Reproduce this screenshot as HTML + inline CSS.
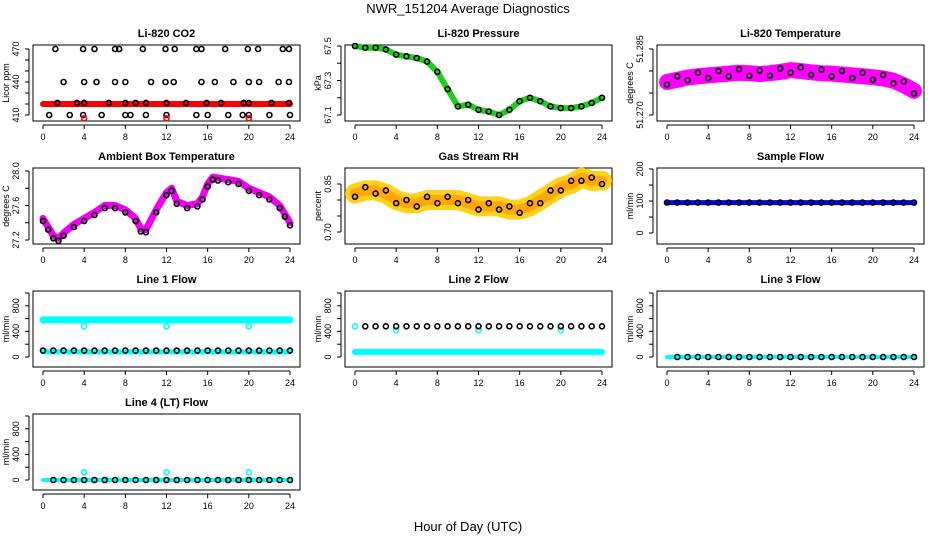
<!DOCTYPE html>
<html><head><meta charset="utf-8"><style>
body{margin:0;background:#fff}
svg{display:block;font-family:"Liberation Sans",sans-serif}
</style></head><body>
<svg id="c" width="936" height="540">
<text x="468" y="13" text-anchor="middle" font-size="13">NWR_151204  Average Diagnostics</text>
<text x="468" y="531" text-anchor="middle" font-size="13">Hour of Day (UTC)</text>
</svg>
<script>
const hours=[0,1,2,3,4,5,6,7,8,9,10,11,12,13,14,15,16,17,18,19,20,21,22,23,24];
const co2Hi=[1.2,3.9,5,7,7.4,9.7,11.9,12.8,14.9,15.4,17.7,19.9,20.9,23.3,23.9];
const co2Mid=[2,4,5.2,7,8,10.5,11.9,12.7,15.4,16.7,18.5,20,21,22.9,23.9];
const co2Base=[1.4,3.3,4,6.4,8,9,10,12,13.9,15.9,17.3,19.5,20,22.2,23.9];
const co2Low=[0.6,2.6,3.9,5.7,8,8.5,10,12,14.9,16,18,19.4,20,22,24];
const co2RedOut=[4,12,20];
const pressure=[67.5,67.49,67.49,67.48,67.45,67.44,67.43,67.41,67.35,67.25,67.15,67.16,67.13,67.12,67.1,67.13,67.18,67.2,67.18,67.15,67.14,67.14,67.15,67.17,67.2];
const liTemp=[51.2775,51.2780,51.2785,51.2788,51.2790,51.2792,51.2794,51.2796,51.2795,51.2793,51.2795,51.2798,51.2802,51.2800,51.2797,51.2795,51.2794,51.2792,51.2790,51.2788,51.2786,51.2783,51.2778,51.2768,51.2755];
const ambHours=[0,0.5,1,1.5,2,3,4,5,6,7,8,9,9.5,10,11,12,12.5,13,14,15,15.5,16,16.5,17,18,19,20,21,22,23,23.5,24];
const ambTemp=[27.45,27.35,27.25,27.22,27.28,27.38,27.45,27.52,27.6,27.6,27.55,27.45,27.33,27.32,27.55,27.75,27.8,27.65,27.6,27.62,27.7,27.85,27.93,27.92,27.9,27.88,27.8,27.75,27.7,27.6,27.5,27.4];
const rh=[0.82,0.83,0.83,0.82,0.80,0.79,0.79,0.80,0.80,0.80,0.80,0.79,0.78,0.78,0.78,0.77,0.77,0.78,0.80,0.82,0.84,0.85,0.87,0.86,0.86];
const sampleFlow=95;
const line1Cyan=580, line1Black=100, line1Out=480;
const line2Cyan=80, line2Black=480, line2Out=420;
const line3Cyan=0, line3Black=0;
const line4Black=0, line4Out=120;
const outHours=[4,12,20];
const xTicks=[0,4,8,12,16,20,24];

const NS="http://www.w3.org/2000/svg";
const svg=document.getElementById('c');
function mk(tag,attrs,parent){const e=document.createElementNS(NS,tag);for(const k in attrs)e.setAttribute(k,attrs[k]);(parent||svg).appendChild(e);return e;}
function panel(col,row,title,ylab,ymin,ymax,pa,pb,yticks,ylabels){
  const yTop=Math.min(pa,pb), yBot=Math.max(pa,pb);
  const bx=33+312*col, by=45+123*row, bw=267, bh=76;
  const g=mk('g',{});
  
  
  const x=h=>bx+10+h*(247/24);
  const y=v=>yBot+(v-ymin)*(yTop-yBot)/(ymax-ymin);
  const fr=mk('rect',{x:bx,y:by,width:bw,height:bh,fill:'none',stroke:'#000','stroke-width':1},g);
  
  const t=mk('text',{x:bx+bw/2,y:by-8,'text-anchor':'middle','font-size':11,'font-weight':'bold'},g);t.textContent=title;
  
  const xa=mk('g',{},g);
  mk('line',{x1:x(0),x2:x(24),y1:by+bh+4,y2:by+bh+4,stroke:'#000'},xa);
  xTicks.forEach(h=>{mk('line',{x1:x(h),x2:x(h),y1:by+bh+4,y2:by+bh+8,stroke:'#000'},xa);
    const tl=mk('text',{x:x(h),y:by+bh+19,'text-anchor':'middle','font-size':9},xa);tl.textContent=h;});
  const ya=mk('g',{},g);
  const ax=bx-4;
  mk('line',{x1:ax,x2:ax,y1:y(yticks[0]),y2:y(yticks[yticks.length-1]),stroke:'#000'},ya);
  yticks.forEach((v,i)=>{mk('line',{x1:ax-4,x2:ax,y1:y(v),y2:y(v),stroke:'#000'},ya);
    if(ylabels[i]!==''){const tl=mk('text',{x:ax-10,y:y(v),'text-anchor':'middle','font-size':9,transform:`rotate(-90 ${ax-10} ${y(v)})`},ya);tl.textContent=ylabels[i];}});
  const yl=mk('text',{x:bx-24,y:by+bh/2,'text-anchor':'middle','font-size':9,transform:`rotate(-90 ${bx-24} ${by+bh/2})`},g);yl.textContent=ylab;
  
  return {g,x,y};
}
function circ(p,h,v,color,name){const c=mk('circle',{cx:p.x(h),cy:p.y(v),r:2.5,fill:'none',stroke:color,'stroke-width':1.6},p.g);
  
  return c;}
function band(p,hs,vs,color,w,name){const l=mk('polyline',{points:hs.map((h,i)=>p.x(h)+','+p.y(vs[i])).join(' '),fill:'none',stroke:color,'stroke-width':w,'stroke-linejoin':'round','stroke-linecap':'round'},p.g);
  
  return l;}
function flat(p,v,color,w,name,h0){return band(p,[h0||0,24],[v,v],color,w,name);}

// CO2
let p=panel(0,0,'Li-820 CO2','Licor ppm',410,470,49,115,[410,420,430,440,450,460,470],['410','','','440','','','470']);
flat(p,420,'#f00',6,'co2-red-series');
co2Hi.forEach(h=>circ(p,h,470,'#000','co2-point'));
co2Mid.forEach(h=>circ(p,h,440,'#000','co2-point'));
co2Base.forEach(h=>circ(p,h,421,'#000','co2-point'));
co2Low.forEach(h=>circ(p,h,410,'#000','co2-point'));
co2RedOut.forEach(h=>circ(p,h,407,'#f00','co2-red-outlier'));
// Pressure
p=panel(1,0,'Li-820 Pressure','kPa',67.1,67.5,115,46,[67.1,67.2,67.3,67.4,67.5],['67.1','','67.3','','67.5']);
band(p,hours,pressure,'#2c2',6,'pressure-green-series');
hours.forEach((h,i)=>circ(p,h,pressure[i],'#000','pressure-point'));
// Li temp
p=panel(2,0,'Li-820 Temperature','degrees C',51.270,51.285,115,49,[51.270,51.275,51.280,51.285],['51.270','','','51.285']);
band(p,hours,liTemp,'#f0f',16,'litemp-magenta-series');
hours.forEach((h,i)=>circ(p,h,liTemp[i]+(i%2?0.0008:-0.0006),'#000','litemp-point'));
// Ambient
p=panel(0,1,'Ambient Box Temperature','degrees C',27.2,28.0,240,171,[27.2,27.4,27.6,27.8,28.0],['27.2','','27.6','','28.0']);
band(p,ambHours,ambTemp,'#e0e',7,'ambient-magenta-series');
ambHours.forEach((h,i)=>circ(p,h,ambTemp[i]-0.03,'#000','ambient-point'));
// RH
p=panel(1,1,'Gas Stream RH','percent',0.70,0.85,232,184,[0.70,0.75,0.80,0.85],['0.70','','','0.85']);
band(p,hours,rh,'#fc0',20,'rh-yellow-band').setAttribute('opacity','0.9');
band(p,hours,rh,'#f80',10,'rh-orange-core').setAttribute('opacity','0.6');
hours.forEach((h,i)=>circ(p,h,rh[i]+(i%2?0.01:-0.01),'#000','rh-point'));
// Sample flow
p=panel(2,1,'Sample Flow','ml/min',0,200,233,169,[0,50,100,150,200],['0','','100','','200']);
flat(p,sampleFlow,'#00f',5,'sample-flow-series');
hours.forEach(h=>circ(p,h,sampleFlow,'#000','sample-flow-point'));
const fticks=[0,200,400,600,800,1000], flabs=['0','','400','','800',''];
// Line 1
p=panel(0,2,'Line 1 Flow','ml/min',0,1000,357,293,fticks,flabs);
flat(p,line1Cyan,'#0ff',7,'line1-cyan-series');
flat(p,line1Black-20,'#0ff',5,'line1-cyan-low');
outHours.forEach(h=>circ(p,h,line1Out,'#0ff','line1-outlier'));
hours.forEach(h=>circ(p,h,line1Black,'#000','line1-point'));
// Line 2
p=panel(1,2,'Line 2 Flow','ml/min',0,1000,357,293,fticks,flabs);
flat(p,line2Cyan,'#0ff',6,'line2-cyan-series');
circ(p,0,line2Black,'#0ff','line2-start');
outHours.forEach(h=>circ(p,h,line2Out,'#0ff','line2-outlier'));
hours.slice(1).forEach(h=>circ(p,h,line2Black,'#000','line2-point'));
// Line 3
p=panel(2,2,'Line 3 Flow','ml/min',0,1000,357,293,fticks,flabs);
flat(p,line3Cyan,'#0ff',4,'line3-cyan-series');
hours.slice(1).forEach(h=>circ(p,h,line3Black,'#000','line3-point'));
// Line 4
p=panel(0,3,'Line 4 (LT) Flow','ml/min',0,1000,480,416,fticks,flabs);
flat(p,line4Black,'#0ff',4,'line4-cyan-series');
outHours.forEach(h=>circ(p,h,line4Out,'#0ff','line4-outlier'));
hours.slice(1).forEach(h=>circ(p,h,line4Black,'#000','line4-point'));
</script>
</body></html>
